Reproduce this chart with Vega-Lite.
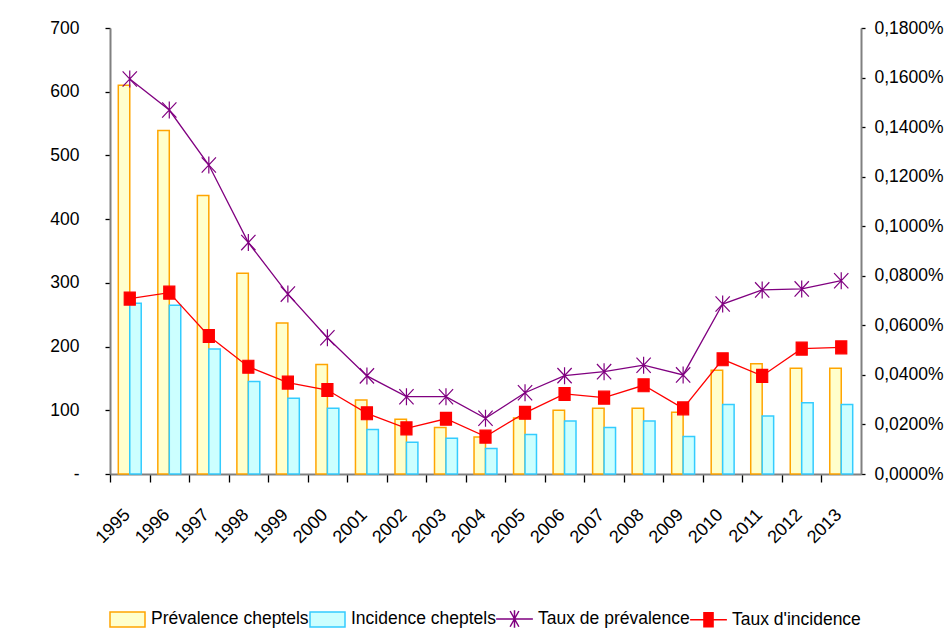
{
  "$schema": "https://vega.github.io/schema/vega-lite/v6.json",
  "width": 751,
  "height": 446,
  "autosize": "none",
  "padding": {"left": 110, "top": 28, "right": 86, "bottom": 158},
  "background": "white",
  "config": {
    "font": "Liberation Sans, Arial",
    "view": {"stroke": null},
    "axis": {"labelFont": "Liberation Sans, Arial", "labelFontSize": 17.5, "labelColor": "black", "grid": false, "title": null, "domainColor": "#808080", "domainWidth": 2, "tickColor": "black", "tickWidth": 1.3},
    "legend": {"labelFont": "Liberation Sans, Arial", "labelFontSize": 17.5, "labelColor": "black", "labelLimit": 0}
  },
  "data": {"values": [
    {"year": "1995", "series": "Prévalence cheptels", "value": 610},
    {"year": "1996", "series": "Prévalence cheptels", "value": 539},
    {"year": "1997", "series": "Prévalence cheptels", "value": 437},
    {"year": "1998", "series": "Prévalence cheptels", "value": 315},
    {"year": "1999", "series": "Prévalence cheptels", "value": 237},
    {"year": "2000", "series": "Prévalence cheptels", "value": 172},
    {"year": "2001", "series": "Prévalence cheptels", "value": 116},
    {"year": "2002", "series": "Prévalence cheptels", "value": 86},
    {"year": "2003", "series": "Prévalence cheptels", "value": 73},
    {"year": "2004", "series": "Prévalence cheptels", "value": 58},
    {"year": "2005", "series": "Prévalence cheptels", "value": 88},
    {"year": "2006", "series": "Prévalence cheptels", "value": 100},
    {"year": "2007", "series": "Prévalence cheptels", "value": 103},
    {"year": "2008", "series": "Prévalence cheptels", "value": 103},
    {"year": "2009", "series": "Prévalence cheptels", "value": 97},
    {"year": "2010", "series": "Prévalence cheptels", "value": 163},
    {"year": "2011", "series": "Prévalence cheptels", "value": 173},
    {"year": "2012", "series": "Prévalence cheptels", "value": 166},
    {"year": "2013", "series": "Prévalence cheptels", "value": 166},
    {"year": "1995", "series": "Incidence cheptels", "value": 268},
    {"year": "1996", "series": "Incidence cheptels", "value": 265},
    {"year": "1997", "series": "Incidence cheptels", "value": 196},
    {"year": "1998", "series": "Incidence cheptels", "value": 145},
    {"year": "1999", "series": "Incidence cheptels", "value": 119},
    {"year": "2000", "series": "Incidence cheptels", "value": 103},
    {"year": "2001", "series": "Incidence cheptels", "value": 70},
    {"year": "2002", "series": "Incidence cheptels", "value": 50},
    {"year": "2003", "series": "Incidence cheptels", "value": 56},
    {"year": "2004", "series": "Incidence cheptels", "value": 40},
    {"year": "2005", "series": "Incidence cheptels", "value": 62},
    {"year": "2006", "series": "Incidence cheptels", "value": 83},
    {"year": "2007", "series": "Incidence cheptels", "value": 73},
    {"year": "2008", "series": "Incidence cheptels", "value": 83},
    {"year": "2009", "series": "Incidence cheptels", "value": 59},
    {"year": "2010", "series": "Incidence cheptels", "value": 109},
    {"year": "2011", "series": "Incidence cheptels", "value": 91},
    {"year": "2012", "series": "Incidence cheptels", "value": 112},
    {"year": "2013", "series": "Incidence cheptels", "value": 109},
    {"year": "1995", "series": "Taux de prévalence", "value": 0.001594},
    {"year": "1996", "series": "Taux de prévalence", "value": 0.001469},
    {"year": "1997", "series": "Taux de prévalence", "value": 0.001247},
    {"year": "1998", "series": "Taux de prévalence", "value": 0.000934},
    {"year": "1999", "series": "Taux de prévalence", "value": 0.000726},
    {"year": "2000", "series": "Taux de prévalence", "value": 0.000550},
    {"year": "2001", "series": "Taux de prévalence", "value": 0.000396},
    {"year": "2002", "series": "Taux de prévalence", "value": 0.000312},
    {"year": "2003", "series": "Taux de prévalence", "value": 0.000312},
    {"year": "2004", "series": "Taux de prévalence", "value": 0.000225},
    {"year": "2005", "series": "Taux de prévalence", "value": 0.000328},
    {"year": "2006", "series": "Taux de prévalence", "value": 0.000397},
    {"year": "2007", "series": "Taux de prévalence", "value": 0.000413},
    {"year": "2008", "series": "Taux de prévalence", "value": 0.000439},
    {"year": "2009", "series": "Taux de prévalence", "value": 0.000400},
    {"year": "2010", "series": "Taux de prévalence", "value": 0.000686},
    {"year": "2011", "series": "Taux de prévalence", "value": 0.000743},
    {"year": "2012", "series": "Taux de prévalence", "value": 0.000747},
    {"year": "2013", "series": "Taux de prévalence", "value": 0.000780},
    {"year": "1995", "series": "Taux d'incidence", "value": 0.000708},
    {"year": "1996", "series": "Taux d'incidence", "value": 0.000732},
    {"year": "1997", "series": "Taux d'incidence", "value": 0.000557},
    {"year": "1998", "series": "Taux d'incidence", "value": 0.000433},
    {"year": "1999", "series": "Taux d'incidence", "value": 0.000369},
    {"year": "2000", "series": "Taux d'incidence", "value": 0.000339},
    {"year": "2001", "series": "Taux d'incidence", "value": 0.000245},
    {"year": "2002", "series": "Taux d'incidence", "value": 0.000184},
    {"year": "2003", "series": "Taux d'incidence", "value": 0.000223},
    {"year": "2004", "series": "Taux d'incidence", "value": 0.000151},
    {"year": "2005", "series": "Taux d'incidence", "value": 0.000247},
    {"year": "2006", "series": "Taux d'incidence", "value": 0.000323},
    {"year": "2007", "series": "Taux d'incidence", "value": 0.000308},
    {"year": "2008", "series": "Taux d'incidence", "value": 0.000358},
    {"year": "2009", "series": "Taux d'incidence", "value": 0.000265},
    {"year": "2010", "series": "Taux d'incidence", "value": 0.000463},
    {"year": "2011", "series": "Taux d'incidence", "value": 0.000396},
    {"year": "2012", "series": "Taux d'incidence", "value": 0.000506},
    {"year": "2013", "series": "Taux d'incidence", "value": 0.000511}
  ]},
  "resolve": {"scale": {"y": "independent"}},
  "layer": [
    {
      "transform": [{"filter": {"field": "series", "oneOf": ["Prévalence cheptels", "Incidence cheptels"]}}],
      "mark": {"type": "bar", "strokeWidth": 1.5},
      "encoding": {
        "x": {"field": "year", "type": "ordinal", "scale": {"paddingInner": 0.42, "paddingOuter": 0.21},
              "axis": {"labelAngle": -45, "labelAlign": "right", "labelBaseline": "middle", "labelFontSize": 18, "tickSize": 8, "tickOffset": -19.76, "labelOffset": 17, "labelPadding": 30}},
        "xOffset": {"field": "series", "scale": {"domain": ["Prévalence cheptels", "Incidence cheptels"], "paddingInner": 0, "paddingOuter": 0}},
        "y": {"field": "value", "type": "quantitative", "scale": {"domain": [0, 700], "nice": false},
              "axis": {"orient": "left", "values": [0, 100, 200, 300, 400, 500, 600, 700], "labelExpr": "datum.value == 0 ? '-' : datum.label", "tickSize": 5, "labelPadding": 26}},
        "fill": {"field": "series", "type": "nominal",
                 "scale": {"domain": ["Prévalence cheptels", "Incidence cheptels", "Taux de prévalence", "Taux d'incidence"], "range": ["#FFFFCC", "#CCFFFF", "#800080", "#FF0000"]},
                 "legend": {"title": null, "orient": "none", "direction": "horizontal", "legendX": -1, "legendY": 572, "symbolSize": 1225, "symbolStrokeWidth": 1.5, "labelOffset": 5, "columnPadding": -4,
                            "encode": {"symbols": {"update": {"shape": {"signal": "indexof(datum.value, 'cheptels') >= 0 ? 'M-1,-0.43H1V0.43H-1Z' : (indexof(datum.value, 'valence') >= 0 ? 'M-1.05,0H1.05M0,-0.5V0.5M-0.25,-0.45L0.25,0.45M0.25,-0.45L-0.25,0.45' : 'M-1.05,0H1.05M-0.26,-0.4H0.26V0.4H-0.26Z')"}, "strokeWidth": {"value": 1.5}}}}}},
        "stroke": {"field": "series", "type": "nominal",
                   "scale": {"domain": ["Prévalence cheptels", "Incidence cheptels", "Taux de prévalence", "Taux d'incidence"], "range": ["#FFA500", "#33CCFF", "#800080", "#FF0000"]},
                   "legend": {"title": null, "orient": "none", "direction": "horizontal", "legendX": -1, "legendY": 572, "symbolSize": 1225, "symbolStrokeWidth": 1.5, "labelOffset": 5, "columnPadding": -4}}
      }
    },
    {
      "transform": [{"filter": {"field": "series", "oneOf": ["Taux de prévalence", "Taux d'incidence"]}}],
      "encoding": {
        "x": {"field": "year", "type": "ordinal"},
        "y": {"field": "value", "type": "quantitative", "scale": {"domain": [0, 0.0018], "nice": false},
              "axis": {"orient": "right", "values": [0, 0.0002, 0.0004, 0.0006, 0.0008, 0.001, 0.0012, 0.0014, 0.0016, 0.0018], "labelExpr": "replace(format(datum.value, '.4%'), '.', ',')", "tickSize": 4, "labelPadding": 9}},
        "stroke": {"field": "series", "type": "nominal"}
      },
      "layer": [
        {"mark": {"type": "line", "strokeWidth": 1.3}},
        {"mark": {"type": "point", "filled": true, "size": 289, "strokeWidth": 1.2, "opacity": 1},
         "encoding": {
           "fill": {"field": "series", "type": "nominal"},
           "shape": {"field": "series", "type": "nominal", "legend": null,
                     "scale": {"domain": ["Taux de prévalence", "Taux d'incidence"], "range": ["M0,-1V1M-0.84,-0.9L0.84,0.9M0.84,-0.9L-0.84,0.9", "M-0.65,-0.76H0.65V0.76H-0.65Z"]}}
         }}
      ]
    }
  ]
}
